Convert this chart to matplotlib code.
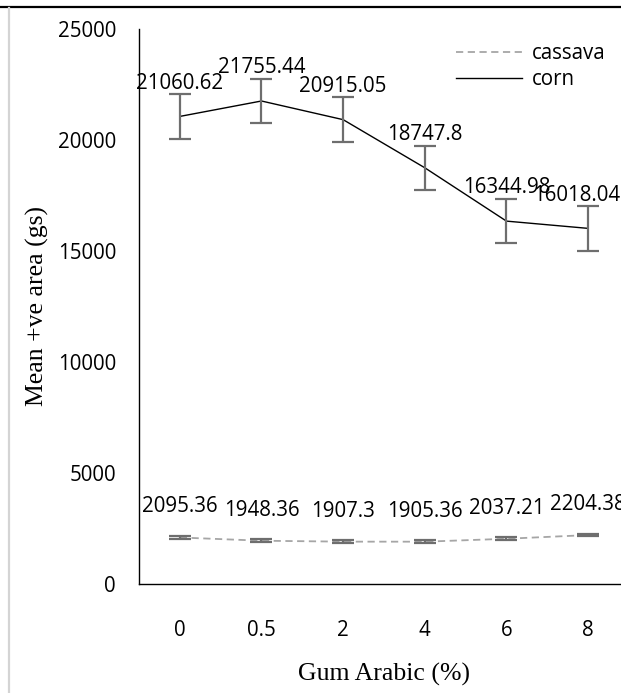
import matplotlib
matplotlib.use("Agg")
import matplotlib.pyplot as plt
from matplotlib.lines import Line2D

# Data
gum_levels = ['0', '0.5', '2', '4', '6', '8']
corn = [21060.62, 21755.44, 20915.05, 18747.8, 16344.98, 16018.04]
corn_err = [1000, 1000, 1000, 1000, 1000, 1000]
cassava = [2095.36, 1948.36, 1907.3, 1905.36, 2037.21, 2204.38]
cassava_err = [60, 60, 60, 60, 60, 60]

plt.rcParams['font.family'] = 'Open Sans'

fig = plt.figure(figsize=(6.21, 6.93), dpi=100)
ax = fig.add_axes([0.2238, 0.1573, 0.789, 0.8009])

x = list(range(len(gum_levels)))

# cassava series (dashed grey) and corn series (solid black)
ax.plot(x, cassava, color='#a6a6a6', lw=1.3, ls=(0, (4, 2.5)), label='cassava')
ax.errorbar(x, cassava, yerr=cassava_err, fmt='none', ecolor='#6e6e6e',
            elinewidth=1.6, capsize=8, capthick=1.6)
ax.plot(x, corn, color='black', lw=1.0, label='corn')
ax.errorbar(x, corn, yerr=corn_err, fmt='none', ecolor='#6e6e6e',
            elinewidth=1.6, capsize=8, capthick=1.6)

# value labels; the last corn label is nudged left to sit inside the page
for xi, v in zip(x, corn):
    dx = -8 if xi == x[-1] else 0
    ax.annotate(str(v), (xi, v), xytext=(dx, 24), textcoords='offset points',
                ha='center', va='center', fontsize=14.8, annotation_clip=False)
for xi, v in zip(x, cassava):
    ax.annotate(str(v), (xi, v), xytext=(0, 22), textcoords='offset points',
                ha='center', va='center', fontsize=14.8, annotation_clip=False)

ax.set_xlim(-0.5, 5.5)
ax.set_ylim(0, 25000)
ax.set_xticks(x)
ax.set_xticklabels(gum_levels)
ax.set_yticks([0, 5000, 10000, 15000, 20000, 25000])
ax.tick_params(axis='both', length=0, labelsize=14.8)
ax.tick_params(axis='x', pad=26)
ax.tick_params(axis='y', pad=16.5)

for side in ['top', 'right']:
    ax.spines[side].set_visible(False)
for side in ['left', 'bottom']:
    ax.spines[side].set_linewidth(1.0)
    ax.spines[side].set_color('black')

ax.set_xlabel('Gum Arabic (%)', family='Liberation Serif', fontsize=18.5, labelpad=16)
ax.set_ylabel('Mean +ve area (gs)', family='Liberation Serif', fontsize=18.5, labelpad=6)

ax.legend(loc='upper right', bbox_to_anchor=(0.99, 1.008), frameon=False,
          fontsize=14.8, handlelength=3.2, handletextpad=0.5, labelspacing=0.25)

# page border lines
fig.add_artist(Line2D([0, 1], [1 - 7 / 693, 1 - 7 / 693], color='black', lw=1.6,
                      transform=fig.transFigure))
fig.add_artist(Line2D([9 / 621, 9 / 621], [0, 1 - 8 / 693], color='#d4d4d4', lw=1.6,
                      transform=fig.transFigure))

fig.savefig('out.png', dpi=100)
